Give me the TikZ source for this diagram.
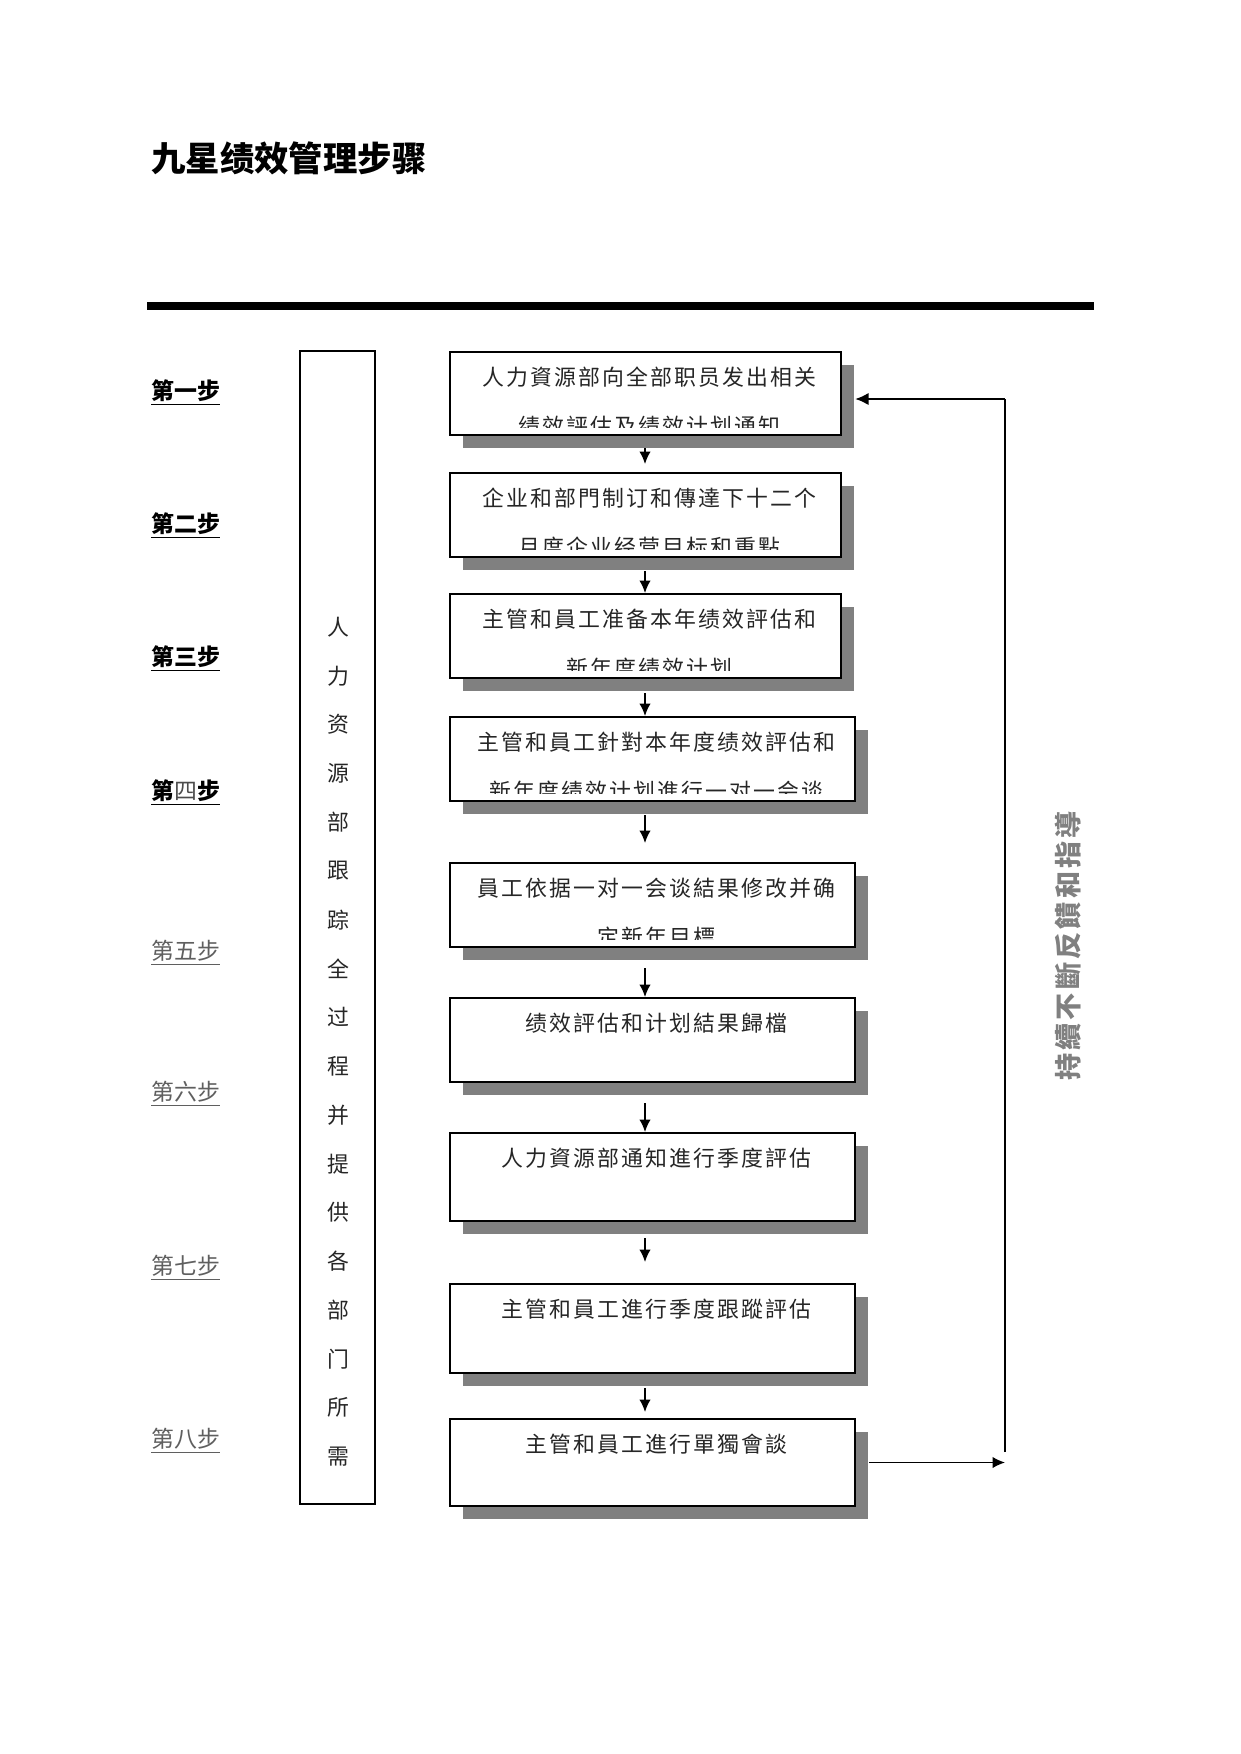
\documentclass[tikz,border=0pt]{standalone}
\usepackage{fontspec}
\setmainfont{Noto Sans CJK SC}
\newfontfamily\boxfont[LetterSpace=10]{Noto Sans CJK SC}
\newfontfamily\sidefont[LetterSpace=12]{Noto Sans CJK SC}
\usetikzlibrary{shadows}
\usetikzlibrary{arrows.meta}

\definecolor{shadowgray}{RGB}{128,128,128}
\definecolor{textgray}{RGB}{95,95,95}

\def\pxu{0.48pt}

\tikzset{
  stepbox/.style={draw, line width=1pt, fill=white, inner sep=0pt, outer sep=0pt, anchor=north west,
    drop shadow={shadow xshift=6pt, shadow yshift=-6pt, fill=shadowgray, opacity=1}},
  boxtxt/.style={inner sep=0pt, font=\boxfont\fontsize{10.5pt}{12pt}\selectfont, text=black!85},
  coltxt/.style={inner sep=0pt, font=\fontsize{10.5pt}{12pt}\selectfont, text=black!85},
  steplabel/.style={anchor=west, inner sep=0pt, font=\fontsize{11pt}{13pt}\selectfont},
  flow/.style={-{Latex[length=6pt,width=5.5pt]}, line width=0.7pt},
}

% name, top, bottom, right, line 1, line 2
\newcommand\stepnode[6]{%
  \node[stepbox, minimum width={(#4-450)*\pxu}, minimum height={(#3-#2)*\pxu}] (#1) at (450,#2) {};
  \begin{scope}
    \clip ([shift={(4*\pxu,-8*\pxu)}]#1.north west) rectangle ([shift={(-4*\pxu,8*\pxu)}]#1.south east);
    \node[boxtxt] (#1a) at ([shift={(4*\pxu,-25*\pxu)}]#1.north) {#5};
    \node[boxtxt] (#1b) at ([shift={(4*\pxu,-74*\pxu)}]#1.north) {#6};
  \end{scope}}

\begin{document}
\begin{tikzpicture}[x=0.48pt, y=-0.48pt]
    \useasboundingbox (0,0) rectangle (1241,1754);

    % 标题
    \node[anchor=west, inner sep=0pt, font=\bfseries\fontsize{16.5pt}{18pt}\selectfont] (title) at (151,158) {九星绩效管理步骤};
    \draw[line width=3.4pt] (147,306) -- (1094,306);

    % 步骤
    \foreach \t/\yy [count=\i] in {第一步/393, 第二步/526, 第三步/659, 第{\mdseries\color{black!70}四}步/793}
        \node[steplabel, font=\bfseries\fontsize{11pt}{13pt}\selectfont] (st\i) at (151,\yy) {\underline{\t}};
    \foreach \t/\yy [count=\i from 5] in {第五步/953, 第六步/1094, 第七步/1268, 第八步/1441}
        \node[steplabel, text=textgray] (st\i) at (151,\yy) {\underline{\t}};

    % 左侧竖框
    \node[draw, line width=0.9pt, anchor=north west, inner sep=0pt, outer sep=0pt,
        minimum width=75*\pxu, minimum height=1153*\pxu] (hrcol) at (300,351) {};
    \foreach \ch [count=\i] in {人,力,资,源,部,跟,踪,全,过,程,并,提,供,各,部,门,所,需}
        \node[coltxt] (c\i) at (338,{627+(\i-1)*48.8}) {\ch};

    % 流程框
    \stepnode{b1}{352}{435}{841}{人力資源部向全部职员发出相关}{绩效評估及绩效计划通知}
    \stepnode{b2}{473}{557}{841}{企业和部門制订和傳達下十二个}{月度企业经营目标和重點}
    \stepnode{b3}{594}{678}{841}{主管和員工准备本年绩效評估和}{新年度绩效计划}
    \stepnode{b4}{717}{801}{855}{主管和員工針對本年度绩效評估和}{新年度绩效计划進行一对一会谈}
    \stepnode{b5}{863}{947}{855}{員工依据一对一会谈結果修改并确}{定新年目標}
    \stepnode{b6}{998}{1082}{855}{绩效評估和计划結果歸檔}{}
    \stepnode{b7}{1133}{1221}{855}{人力資源部通知進行季度評估}{}
    \stepnode{b8}{1284}{1373}{855}{主管和員工進行季度跟蹤評估}{}
    \stepnode{b9}{1419}{1506}{855}{主管和員工進行單獨會談}{}

    % 箭头
    \coordinate (ax) at (645,0);
    \foreach \a/\b/\s/\e in {b1/b2/13/9, b2/b3/14/1, b3/b4/15/1, b4/b5/14/20,
                             b5/b6/21/1, b6/b7/21/1, b7/b8/17/22, b8/b9/15/7}
        \draw[flow, shorten <=\s*\pxu, shorten >=\e*\pxu] (\a.south -| ax) -- (\b.north -| ax);

    % 反馈回路
    \coordinate (loopTop) at (1005,399);
    \coordinate (loopBot) at (1005,1452);
    \draw[line width=0.9pt] (loopBot) -- (loopTop);
    \draw[-{Latex[length=6.5pt,width=6pt]}, line width=1.4pt, shorten >=14*\pxu] (loopTop) -- (loopTop -| b1.east);
    \draw[flow, shorten <=14*\pxu] (b9.east) -- (b9.east -| loopTop);
    \node[rotate=90, inner sep=0pt, text=shadowgray, font=\sidefont\bfseries\fontsize{13pt}{15pt}\selectfont] (fbtext) at (1068,946) {持續不斷反饋和指導};
\end{tikzpicture}
\end{document}
